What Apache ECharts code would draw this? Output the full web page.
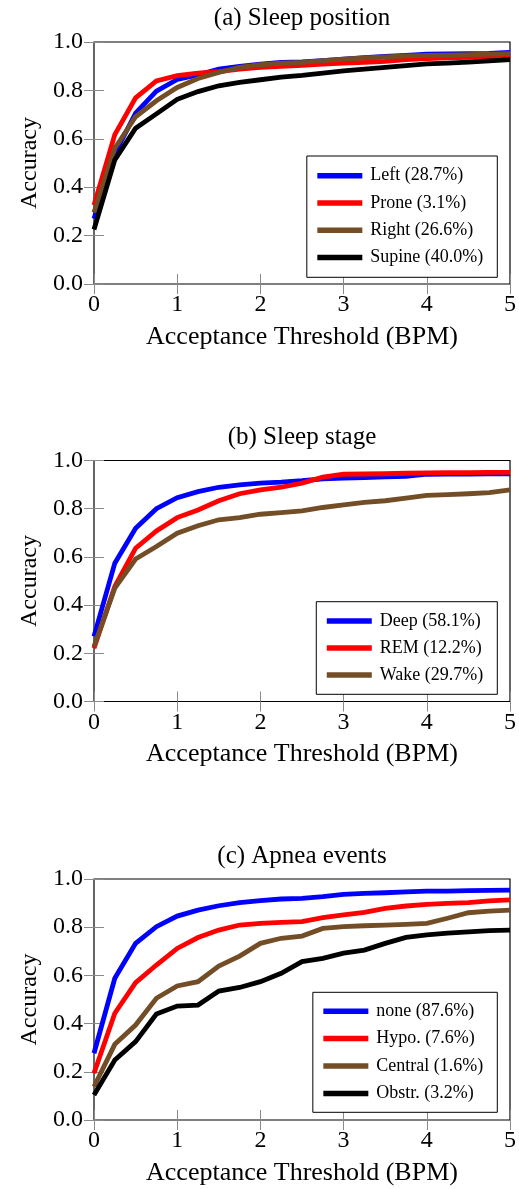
<!DOCTYPE html>
<html><head><meta charset="utf-8">
<script src="https://cdn.jsdelivr.net/npm/echarts@6/dist/echarts.min.js"></script>
<style>html,body{margin:0;padding:0;background:#fff}#c{width:519px;height:1189px}</style>
</head><body><div id="c"></div>
<script>
// ---------- data ----------
const thresholds = [0, 0.25, 0.5, 0.75, 1, 1.25, 1.5, 1.75, 2, 2.25, 2.5, 2.75, 3, 3.25, 3.5, 3.75, 4, 4.25, 4.5, 4.75, 5];
const xTicks = [0, 1, 2, 3, 4, 5];
const yTicks = [0, 0.2, 0.4, 0.6, 0.8, 1.0];

const titles = ['(a) Sleep position', '(b) Sleep stage', '(c) Apnea events'];
const xName = 'Acceptance Threshold (BPM)';
const yName = 'Accuracy';

// (a) sleep position
const positionNames = ['Left (28.7%)', 'Prone (3.1%)', 'Right (26.6%)', 'Supine (40.0%)'];
const posLeft   = [0.270, 0.539, 0.706, 0.797, 0.845, 0.864, 0.888, 0.899, 0.909, 0.916, 0.918, 0.923, 0.929, 0.935, 0.940, 0.945, 0.950, 0.951, 0.952, 0.953, 0.957];
const posProne  = [0.326, 0.617, 0.769, 0.839, 0.861, 0.871, 0.878, 0.888, 0.895, 0.899, 0.903, 0.909, 0.913, 0.916, 0.920, 0.927, 0.931, 0.934, 0.937, 0.940, 0.943];
const posRight  = [0.295, 0.561, 0.691, 0.757, 0.812, 0.849, 0.874, 0.895, 0.906, 0.913, 0.916, 0.923, 0.929, 0.934, 0.938, 0.943, 0.945, 0.946, 0.948, 0.950, 0.952];
const posSupine = [0.225, 0.513, 0.644, 0.703, 0.763, 0.795, 0.819, 0.833, 0.844, 0.855, 0.862, 0.871, 0.881, 0.888, 0.895, 0.902, 0.910, 0.913, 0.917, 0.922, 0.927];

// (b) sleep stage
const stageNames = ['Deep (58.1%)', 'REM (12.2%)', 'Wake (29.7%)'];
const stageDeep = [0.270, 0.574, 0.719, 0.800, 0.846, 0.871, 0.889, 0.899, 0.906, 0.910, 0.916, 0.924, 0.927, 0.929, 0.932, 0.934, 0.943, 0.944, 0.944, 0.945, 0.945];
const stageREM  = [0.221, 0.477, 0.636, 0.708, 0.763, 0.795, 0.833, 0.862, 0.878, 0.889, 0.906, 0.931, 0.943, 0.944, 0.945, 0.947, 0.949, 0.950, 0.950, 0.951, 0.951];
const stageWake = [0.228, 0.470, 0.591, 0.643, 0.698, 0.729, 0.754, 0.763, 0.777, 0.784, 0.791, 0.805, 0.816, 0.826, 0.833, 0.844, 0.855, 0.858, 0.862, 0.867, 0.878];

// (c) apnea events
const apneaNames = ['none (87.6%)', 'Hypo. (7.6%)', 'Central (1.6%)', 'Obstr. (3.2%)'];
const apneaNone    = [0.277, 0.588, 0.733, 0.802, 0.846, 0.871, 0.889, 0.902, 0.910, 0.917, 0.920, 0.927, 0.936, 0.940, 0.943, 0.947, 0.950, 0.950, 0.952, 0.953, 0.954];
const apneaHypo    = [0.194, 0.443, 0.570, 0.643, 0.712, 0.757, 0.788, 0.809, 0.816, 0.820, 0.823, 0.840, 0.851, 0.862, 0.878, 0.888, 0.895, 0.899, 0.902, 0.909, 0.913];
const apneaCentral = [0.138, 0.314, 0.394, 0.505, 0.556, 0.574, 0.639, 0.680, 0.733, 0.754, 0.763, 0.795, 0.802, 0.806, 0.809, 0.812, 0.816, 0.837, 0.860, 0.867, 0.871];
const apneaObstr   = [0.104, 0.249, 0.325, 0.440, 0.473, 0.477, 0.535, 0.550, 0.574, 0.609, 0.657, 0.671, 0.692, 0.705, 0.733, 0.758, 0.768, 0.775, 0.781, 0.786, 0.788];

// ---------- styling ----------
const BLUE = '#0000ff', RED = '#ff0000', BROWN = '#734d26', BLACK = '#000000';
const FONT = '"Liberation Serif", "Times New Roman", serif';

const panels = [
  { title: titles[0], names: positionNames, values: [posLeft, posProne, posRight, posSupine], colors: [BLUE, RED, BROWN, BLACK],
    grid: { top: 42, height: 242 }, titleTop: 6, legendTop: 156, legendGap: 9.3, legendPad: 10.7 },
  { title: titles[1], names: stageNames, values: [stageDeep, stageREM, stageWake], colors: [BLUE, RED, BROWN],
    grid: { top: 460.5, height: 241 }, titleTop: 425, legendTop: 601.7, legendGap: 9, legendPad: 10.3 },
  { title: titles[2], names: apneaNames, values: [apneaNone, apneaHypo, apneaCentral, apneaObstr], colors: [BLUE, RED, BROWN, BLACK],
    grid: { top: 879, height: 241 }, titleTop: 843.5, legendTop: 992.3, legendGap: 9.4, legendPad: 9.9 }
];

const GRID_LEFT = 94, GRID_WIDTH = 416;
const option = { animation: false, backgroundColor: '#fff', title: [], grid: [], xAxis: [], yAxis: [], legend: [], series: [] };

panels.forEach((p, i) => {
  option.title.push({
    text: p.title, left: GRID_LEFT + GRID_WIDTH / 2, top: p.titleTop, textAlign: 'center', padding: 0,
    textStyle: { fontFamily: FONT, fontSize: 25, fontWeight: 'normal', color: '#000' }
  });
  option.grid.push({
    left: GRID_LEFT, width: GRID_WIDTH, top: p.grid.top, height: p.grid.height,
    show: true, borderColor: '#000', borderWidth: 1.2, backgroundColor: '#fff'
  });
  const tick = { show: true, inside: true, length: 10, lineStyle: { color: '#8a8a8a', width: 1 } };
  option.xAxis.push({
    type: 'value', gridIndex: i, min: xTicks[0], max: xTicks[xTicks.length - 1], interval: 1, position: 'bottom',
    name: xName, nameLocation: 'middle', nameGap: 40,
    nameTextStyle: { fontFamily: FONT, fontSize: 26, color: '#000' },
    axisLine: { show: false }, splitLine: { show: false }, axisTick: tick,
    axisLabel: { margin: 9, fontFamily: FONT, fontSize: 24, color: '#000', formatter: v => String(v) }
  });
  option.xAxis.push({
    type: 'value', gridIndex: i, min: xTicks[0], max: xTicks[xTicks.length - 1], interval: 1, position: 'top',
    axisLine: { show: false }, splitLine: { show: false }, axisTick: tick, axisLabel: { show: false }
  });
  option.yAxis.push({
    type: 'value', gridIndex: i, min: yTicks[0], max: yTicks[yTicks.length - 1], interval: 0.2, position: 'left',
    name: yName, nameLocation: 'middle', nameGap: 52,
    nameTextStyle: { fontFamily: FONT, fontSize: 24, color: '#000' },
    axisLine: { show: false }, splitLine: { show: false }, axisTick: tick,
    axisLabel: { margin: 11, fontFamily: FONT, fontSize: 24, color: '#000', formatter: v => v.toFixed(1) }
  });
  option.yAxis.push({
    type: 'value', gridIndex: i, min: yTicks[0], max: yTicks[yTicks.length - 1], interval: 0.2, position: 'right',
    axisLine: { show: false }, splitLine: { show: false }, axisTick: tick, axisLabel: { show: false }
  });
  option.legend.push({
    data: p.names, orient: 'vertical', right: 21.7, top: p.legendTop,
    borderColor: '#000', borderWidth: 1, backgroundColor: '#fff',
    padding: [p.legendPad, 14, p.legendPad, 10.5], itemGap: p.legendGap,
    itemWidth: 45, itemHeight: 5.5, icon: 'rect', selectedMode: false,
    textStyle: { fontFamily: FONT, fontSize: 18, color: '#000', padding: [0, 0, 0, 3] }
  });
  p.names.forEach((name, k) => {
    option.series.push({
      type: 'line', name: name, xAxisIndex: 2 * i, yAxisIndex: 2 * i,
      data: thresholds.map((t, j) => [t, p.values[k][j]]),
      symbol: 'none', showSymbol: false, color: p.colors[k],
      lineStyle: { width: 4.8, color: p.colors[k], join: 'miter' },
      itemStyle: { color: p.colors[k] }, z: 2 + k, silent: true
    });
  });
});

const chart = echarts.init(document.getElementById('c'), null, { renderer: 'canvas' });
chart.setOption(option);
</script>
</body></html>
